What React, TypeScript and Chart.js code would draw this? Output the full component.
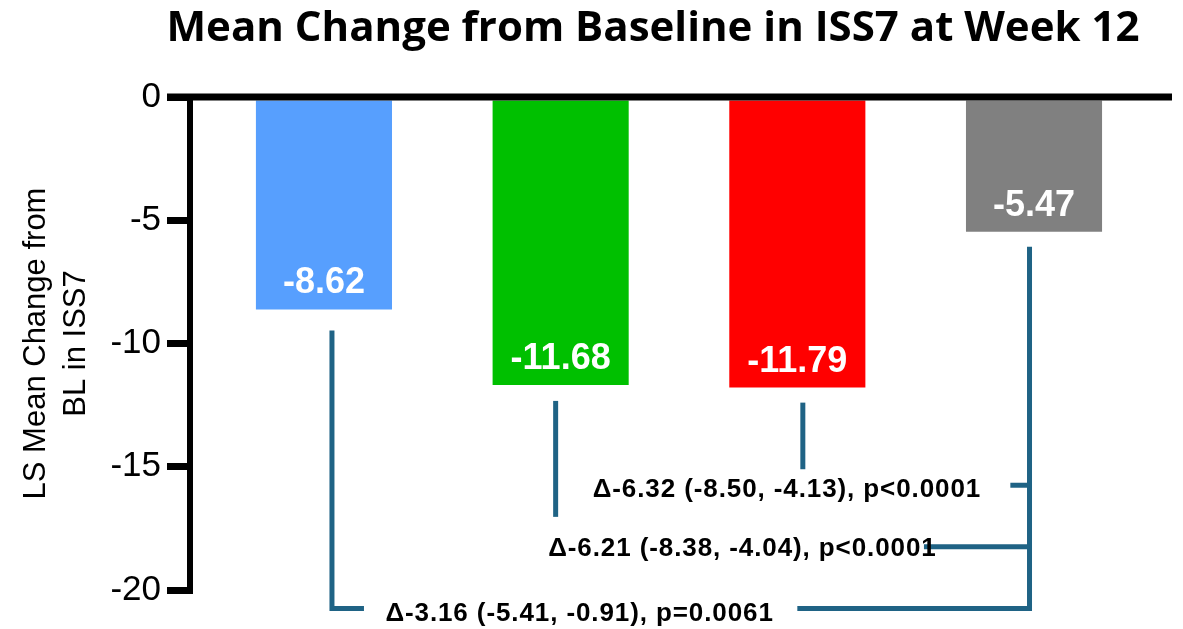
import React, { useEffect, useRef } from "react";
import { Chart, registerables } from "chart.js";

Chart.register(...registerables);

// Treatment arms (placebo last) and their LS mean change from baseline
const ARMS = ["Arm 1", "Arm 2", "Arm 3", "Placebo"];
const LS_MEAN_CHANGE = [-8.62, -11.68, -11.79, -5.47];
const BAR_COLORS = ["#579ffe", "#00c000", "#ff0000", "#808080"];

// Y axis
const Y_MIN = -20;
const Y_MAX = 0;
const Y_STEP = 5;

// Treatment-vs-placebo comparisons (index into ARMS)
const COMPARISON_ARMS = [0, 1, 2];
const COMPARISON_LABELS = [
  "Δ-3.16 (-5.41, -0.91), p=0.0061",
  "Δ-6.21 (-8.38, -4.04), p<0.0001",
  "Δ-6.32 (-8.50, -4.13), p<0.0001",
];

const TITLE = "Mean Change from Baseline in ISS7 at Week 12";
const Y_TITLE = ["LS Mean Change from", "BL in ISS7"];

const SANS = "'Liberation Sans', Arial, sans-serif";
const BRACKET_COLOR = "#1f6385";

// Bracket layout: y level of each comparison line (axis units), where its label sits,
// and where the connecting segment to the placebo arm begins (x axis units).
const bracketLayout = [
  { level: -20.75, textX: 1.08, lineFrom: 2.0, armDx: 8, armGap: 21, armStop: 0, elbow: 32, baseDy: 12.5 },
  { level: -18.25, textX: 1.768, lineFrom: 2.535, armDx: -5, armGap: 16, armStop: 30, elbow: 0, baseDy: 9 },
  { level: -15.75, textX: 1.956, lineFrom: 2.9, armDx: 5.5, armGap: 15, armStop: 16, elbow: 0, baseDy: 12 },
];
const placeboDx = -4.5;
const placeboGap = 15;

const overlayPlugin = {
  id: "overlay",
  afterDatasetsDraw(chart: any) {
    const { ctx, chartArea, scales } = chart;
    const x = scales.x;
    const y = scales.y;
    const bars = chart.getDatasetMeta(0).data;
    ctx.save();

    // zero reference line across the top of the plot
    const zeroY = y.getPixelForValue(0);
    ctx.strokeStyle = "#000";
    ctx.lineWidth = 7;
    ctx.lineCap = "butt";
    ctx.beginPath();
    ctx.moveTo(chartArea.left - 23, zeroY);
    ctx.lineTo(chartArea.right, zeroY);
    ctx.stroke();

    // value labels inside the bars
    ctx.fillStyle = "#fff";
    ctx.font = `bold 36px ${SANS}`;
    ctx.textAlign = "center";
    ctx.textBaseline = "alphabetic";
    bars.forEach((bar: any, i: number) => {
      ctx.fillText(LS_MEAN_CHANGE[i].toFixed(2), bar.x, bar.y - 16);
    });

    // comparison brackets
    const placeboIdx = ARMS.length - 1;
    const placeboBar = bars[placeboIdx];
    const px = placeboBar.x + placeboDx;
    const lowest = y.getPixelForValue(Math.min(...bracketLayout.map((b) => b.level)));
    ctx.strokeStyle = BRACKET_COLOR;
    ctx.lineWidth = 5;
    ctx.beginPath();
    ctx.moveTo(px, placeboBar.y + placeboGap);
    ctx.lineTo(px, lowest + 2.5);
    ctx.stroke();

    COMPARISON_ARMS.forEach((armIdx, k) => {
      const lay = bracketLayout[k];
      const bar = bars[armIdx];
      const ax = bar.x + lay.armDx;
      const ly = y.getPixelForValue(lay.level);
      ctx.strokeStyle = BRACKET_COLOR;
      ctx.lineWidth = 5;
      ctx.lineJoin = "miter";
      ctx.beginPath();
      ctx.moveTo(ax, bar.y + lay.armGap);
      if (lay.elbow > 0) {
        ctx.lineTo(ax, ly);
        ctx.lineTo(ax + lay.elbow, ly);
      } else {
        ctx.lineTo(ax, ly - lay.armStop);
      }
      ctx.stroke();

      ctx.beginPath();
      ctx.moveTo(x.getPixelForValue(lay.lineFrom), ly);
      ctx.lineTo(px, ly);
      ctx.stroke();

      ctx.fillStyle = "#000";
      ctx.font = `bold 26px ${SANS}`;
      (ctx as any).letterSpacing = "0.9px";
      ctx.textAlign = "center";
      ctx.textBaseline = "alphabetic";
      ctx.fillText(COMPARISON_LABELS[k], x.getPixelForValue(lay.textX), ly + lay.baseDy);
      (ctx as any).letterSpacing = "0px";
    });

    ctx.restore();
  },
  afterDraw(chart: any) {
    const { ctx } = chart;
    ctx.save();
    ctx.fillStyle = "#000";
    ctx.font = "bold 42px 'Open Sans', 'Noto Sans', sans-serif";
    ctx.textAlign = "center";
    ctx.textBaseline = "alphabetic";
    ctx.fillText(TITLE, 653, 41);
    ctx.restore();
  },
};

export default function App() {
  const canvasRef = useRef<HTMLCanvasElement | null>(null);

  useEffect(() => {
    if (!canvasRef.current) return;
    const chart = new Chart(canvasRef.current, {
      type: "bar",
      data: {
        datasets: [
          {
            label: "LS mean change",
            data: LS_MEAN_CHANGE.map((v, i) => ({ x: i, y: v })),
            backgroundColor: BAR_COLORS,
            borderWidth: 0,
            barPercentage: 0.575,
            categoryPercentage: 1,
          },
        ],
      },
      options: {
        animation: false,
        responsive: false,
        maintainAspectRatio: false,
        layout: { padding: { top: 97, bottom: 39, left: 0, right: 11 } },
        plugins: {
          legend: { display: false },
          title: { display: false },
          tooltip: { enabled: false },
        },
        scales: {
          x: {
            type: "linear",
            min: -0.566,
            max: 3.583,
            offset: false,
            display: false,
            ticks: { stepSize: 1, includeBounds: false },
          },
          y: {
            min: Y_MIN,
            max: Y_MAX,
            afterFit: (scale: any) => {
              scale.width = 190;
            },
            ticks: {
              stepSize: Y_STEP,
              color: "#000",
              padding: 6,
              font: { family: SANS, size: 35 },
              callback: (v: any) => String(v),
            },
            grid: {
              drawOnChartArea: false,
              color: "#000",
              lineWidth: 7,
              tickWidth: 7,
              tickLength: 23,
            },
            border: { display: true, color: "#000", width: 6 },
            title: {
              display: true,
              text: Y_TITLE,
              color: "#000",
              font: { family: SANS, size: 31, lineHeight: 1.3 },
              padding: { top: 16, bottom: 0 },
            },
          },
        },
      },
      plugins: [overlayPlugin],
    });
    return () => chart.destroy();
  }, []);

  return (
    <div
      style={{
        position: "fixed",
        left: 0,
        top: 0,
        width: 1183,
        height: 629,
        background: "#fff",
      }}
    >
      <canvas ref={canvasRef} width={1183} height={629} />
    </div>
  );
}
